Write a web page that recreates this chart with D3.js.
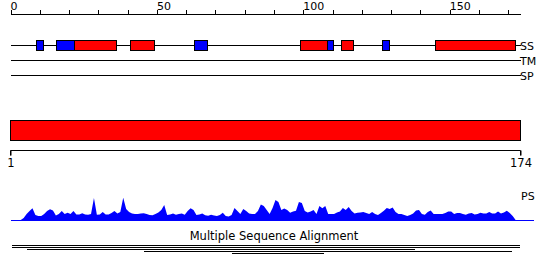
<!DOCTYPE html>
<html>
<head>
<meta charset="utf-8">
<script src="https://cdn.jsdelivr.net/npm/d3@7"></script>
<style>
  body { margin: 0; background: #fff; }
  text { font-family: "DejaVu Sans", sans-serif; font-size: 11px; fill: #000; }
</style>
</head>
<body>
<div id="chart"></div>
<script>
// sequence length and ruler ticks
var seqLength = 174;
var minorTicks = d3.range(0, 171, 10);
var majorTicks = [0, 50, 100, 150];

// secondary structure elements (H = helix, E = strand), residue positions
var ssType  = ["E", "E", "H", "H", "E", "H", "E", "H", "E", "H"];
var ssStart = [8.8, 15.6, 21.8, 40.9, 62.8, 99.0, 108.0, 113.0, 127.0, 145.1];
var ssEnd   = [11.0, 21.8, 35.9, 48.9, 67.0, 108.0, 110.0, 116.9, 129.2, 172.2];

// track names
var trackNames = ["SS", "TM", "SP"];

// PS profile score per residue (1..174)
var psValues = [
  0, 0, 0, 0, 2, 6, 9, 11.7, 5, 4,
  4, 6, 9, 10.7, 9.5, 4.5, 6, 9, 6, 7.3,
  6, 9, 5.5, 5.5, 6.7, 5.5, 5.3, 6, 22, 5.3,
  5.5, 8, 5.5, 5.5, 7, 9, 6.5, 8, 22.3, 11,
  8, 6.5, 6, 6, 6.5, 6.7, 6, 5, 4.7, 6,
  7.5, 10, 15, 5, 5.5, 6.5, 5.3, 6, 6.5, 5.3,
  9, 11.7, 10, 5, 5.5, 6.5, 4.7, 4.2, 5.3, 4.5,
  4, 5, 7.3, 4, 3.5, 5, 12, 9, 6, 11,
  9, 6.5, 6, 6, 9, 15.5, 14, 10, 6, 12,
  20, 18, 10, 11.5, 10, 7.3, 8.5, 9.3, 18, 17,
  9, 7.5, 8.5, 10, 6, 14, 11.7, 14, 6, 6,
  6, 7.5, 8.5, 12, 10, 13, 9, 6.5, 7.3, 7.5,
  8, 7, 6, 8, 6, 5, 7, 9.3, 12, 11,
  12.5, 8, 6, 6, 5, 4, 5, 6.5, 9.5, 10,
  6, 5.3, 8, 9.5, 6, 6, 6, 6, 7, 8.5,
  8.5, 6, 7, 7, 6, 5.3, 6.5, 7, 5.5, 6,
  7.3, 6.5, 6.5, 8, 6.5, 6.5, 8.5, 6.5, 7.5, 9.3,
  7, 4, 0, 0
];

// multiple sequence alignment hits (start, end residue)
var msaStart = [0.5, 0.5, 5.7, 45.6, 75.8];
var msaEnd   = [174, 174, 138, 171.3, 106.9];

var width = 550, height = 275;

var svg = d3.select("#chart").append("svg")
  .attr("width", width)
  .attr("height", height);

var xTop = d3.scaleLinear().domain([0, seqLength]).range([10.5, 520]);
var xRes = d3.scaleLinear().domain([1, seqLength]).range([10.5, 520.5]);
var yPS = d3.scaleLinear().domain([0, 24]).range([220, 196]);

// top ruler
var ruler = svg.append("g").attr("shape-rendering", "crispEdges");
ruler.append("line")
  .attr("x1", xTop(0)).attr("x2", xTop(seqLength) + 1)
  .attr("y1", 14.5).attr("y2", 14.5)
  .attr("stroke", "#000");
ruler.selectAll(".tick").data(minorTicks).enter()
  .append("line")
  .attr("x1", d => Math.round(xTop(d)) + 0.5).attr("x2", d => Math.round(xTop(d)) + 0.5)
  .attr("y1", 10).attr("y2", 14.5)
  .attr("stroke", "#000");
svg.selectAll(".majorLabel").data(majorTicks).enter()
  .append("text")
  .attr("x", d => xTop(d))
  .attr("y", 10)
  .text(d => d);

// tracks
var trackY = [45.5, 60.5, 75.5];
var tracks = svg.append("g").attr("shape-rendering", "crispEdges");
tracks.selectAll("line").data(trackNames).enter()
  .append("line")
  .attr("x1", xTop(0)).attr("x2", xTop(seqLength) + 1)
  .attr("y1", (d, i) => trackY[i]).attr("y2", (d, i) => trackY[i])
  .attr("stroke", "#000");
svg.selectAll(".trackLabel").data(trackNames).enter()
  .append("text")
  .attr("x", 520)
  .attr("y", (d, i) => trackY[i] + 4.5)
  .text(d => d);

// secondary structure boxes
tracks.selectAll("rect").data(ssType).enter()
  .append("rect")
  .attr("x", (d, i) => Math.round(xTop(ssStart[i])) + 0.5)
  .attr("width", (d, i) => Math.round(xTop(ssEnd[i])) - Math.round(xTop(ssStart[i])))
  .attr("y", 40.5)
  .attr("height", 10)
  .attr("fill", d => d === "H" ? "#ff0000" : "#0000ff")
  .attr("stroke", "#000");

// domain bar
var domain = svg.append("g").attr("shape-rendering", "crispEdges");
domain.append("rect")
  .attr("x", xRes(1)).attr("width", xRes(seqLength) - xRes(1))
  .attr("y", 120.5).attr("height", 20)
  .attr("fill", "#ff0000")
  .attr("stroke", "#000");

// residue axis
var resAxis = d3.axisBottom(xRes).tickValues([1, seqLength]).tickSize(5).tickPadding(3);
var resG = svg.append("g")
  .attr("transform", "translate(0,150.5)")
  .call(resAxis);
resG.select(".domain").attr("d", "M" + xRes(1) + ",5V0H" + xRes(seqLength) + "V5");
resG.selectAll("text").style("font-size", "11.5px").style("font-family", "DejaVu Sans");

// PS profile
var psArea = d3.area()
  .x((d, i) => xTop(i + 0.5))
  .y0(yPS(0))
  .y1(d => yPS(d));
svg.append("path")
  .datum(psValues)
  .attr("d", psArea)
  .attr("fill", "#0000ff");
svg.append("line")
  .attr("x1", xTop(0)).attr("x2", 534)
  .attr("y1", yPS(0) + 0.5).attr("y2", yPS(0) + 0.5)
  .attr("stroke", "#0000ff")
  .attr("shape-rendering", "crispEdges");
svg.append("text")
  .attr("x", 521).attr("y", 200)
  .text("PS");

// multiple sequence alignment
svg.append("text")
  .attr("x", 274).attr("y", 240)
  .attr("text-anchor", "middle")
  .style("font-size", "11.5px")
  .text("Multiple Sequence Alignment");
svg.append("g").attr("shape-rendering", "crispEdges")
  .selectAll("line").data(msaStart).enter()
  .append("line")
  .attr("x1", (d, i) => xTop(msaStart[i]))
  .attr("x2", (d, i) => xTop(msaEnd[i]))
  .attr("y1", (d, i) => 245.5 + i * 2)
  .attr("y2", (d, i) => 245.5 + i * 2)
  .attr("stroke", "#000");
</script>
</body>
</html>
